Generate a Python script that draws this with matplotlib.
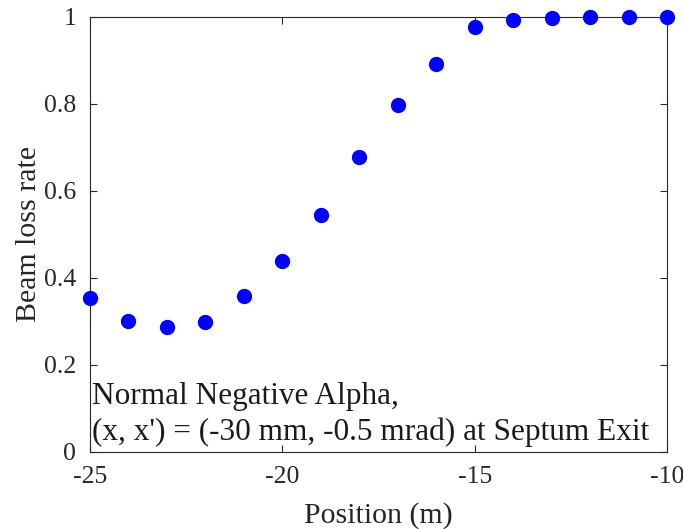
import matplotlib
matplotlib.use("Agg")
import matplotlib.pyplot as plt

plt.rcParams['font.family'] = ['Liberation Serif', 'DejaVu Serif']
plt.rcParams['axes.unicode_minus'] = False

# beam loss rate vs position
position = [-25, -24, -23, -22, -21, -20, -19, -18, -17, -16, -15, -14, -13, -12, -11, -10]
loss_rate = [0.354, 0.301, 0.287, 0.299, 0.359, 0.439, 0.545, 0.678, 0.798, 0.893,
             0.977, 0.992, 0.997, 0.999, 0.999, 1.0]

fig = plt.figure(figsize=(6.83, 5.29), dpi=100)
ax = fig.add_axes([0.1318, 0.1456, 0.8448, 0.8223])

ax.plot(position, loss_rate, 'o', color='#0000ff', markersize=10, clip_on=False, zorder=3)

ax.set_xlim(-25, -10)
ax.set_ylim(0, 1)
ax.set_xticks([-25, -20, -15, -10])
ax.set_yticks([0, 0.2, 0.4, 0.6, 0.8, 1])
ax.set_yticklabels(['0', '0.2', '0.4', '0.6', '0.8', '1'])
ax.tick_params(direction='in', labelsize=18.5, length=5, colors='#262626', top=True, right=True)
ax.tick_params(axis='x', pad=10)
ax.tick_params(axis='y', pad=10)
for s in ax.spines.values():
    s.set_color('#262626')
    s.set_linewidth(0.8)

ax.set_xlabel("Position (m)", fontsize=21.5, color='#262626', labelpad=10)
ax.set_ylabel("Beam loss rate", fontsize=21.5, color='#262626', labelpad=1)

ax.text(0.003, 0.012, "Normal Negative Alpha,\n(x, x') = (-30 mm, -0.5 mrad) at Septum Exit",
        transform=ax.transAxes, fontsize=22.5, color='#1a1a1a', ha='left', va='bottom',
        linespacing=1.3)

fig.savefig("out.png", dpi=100)
